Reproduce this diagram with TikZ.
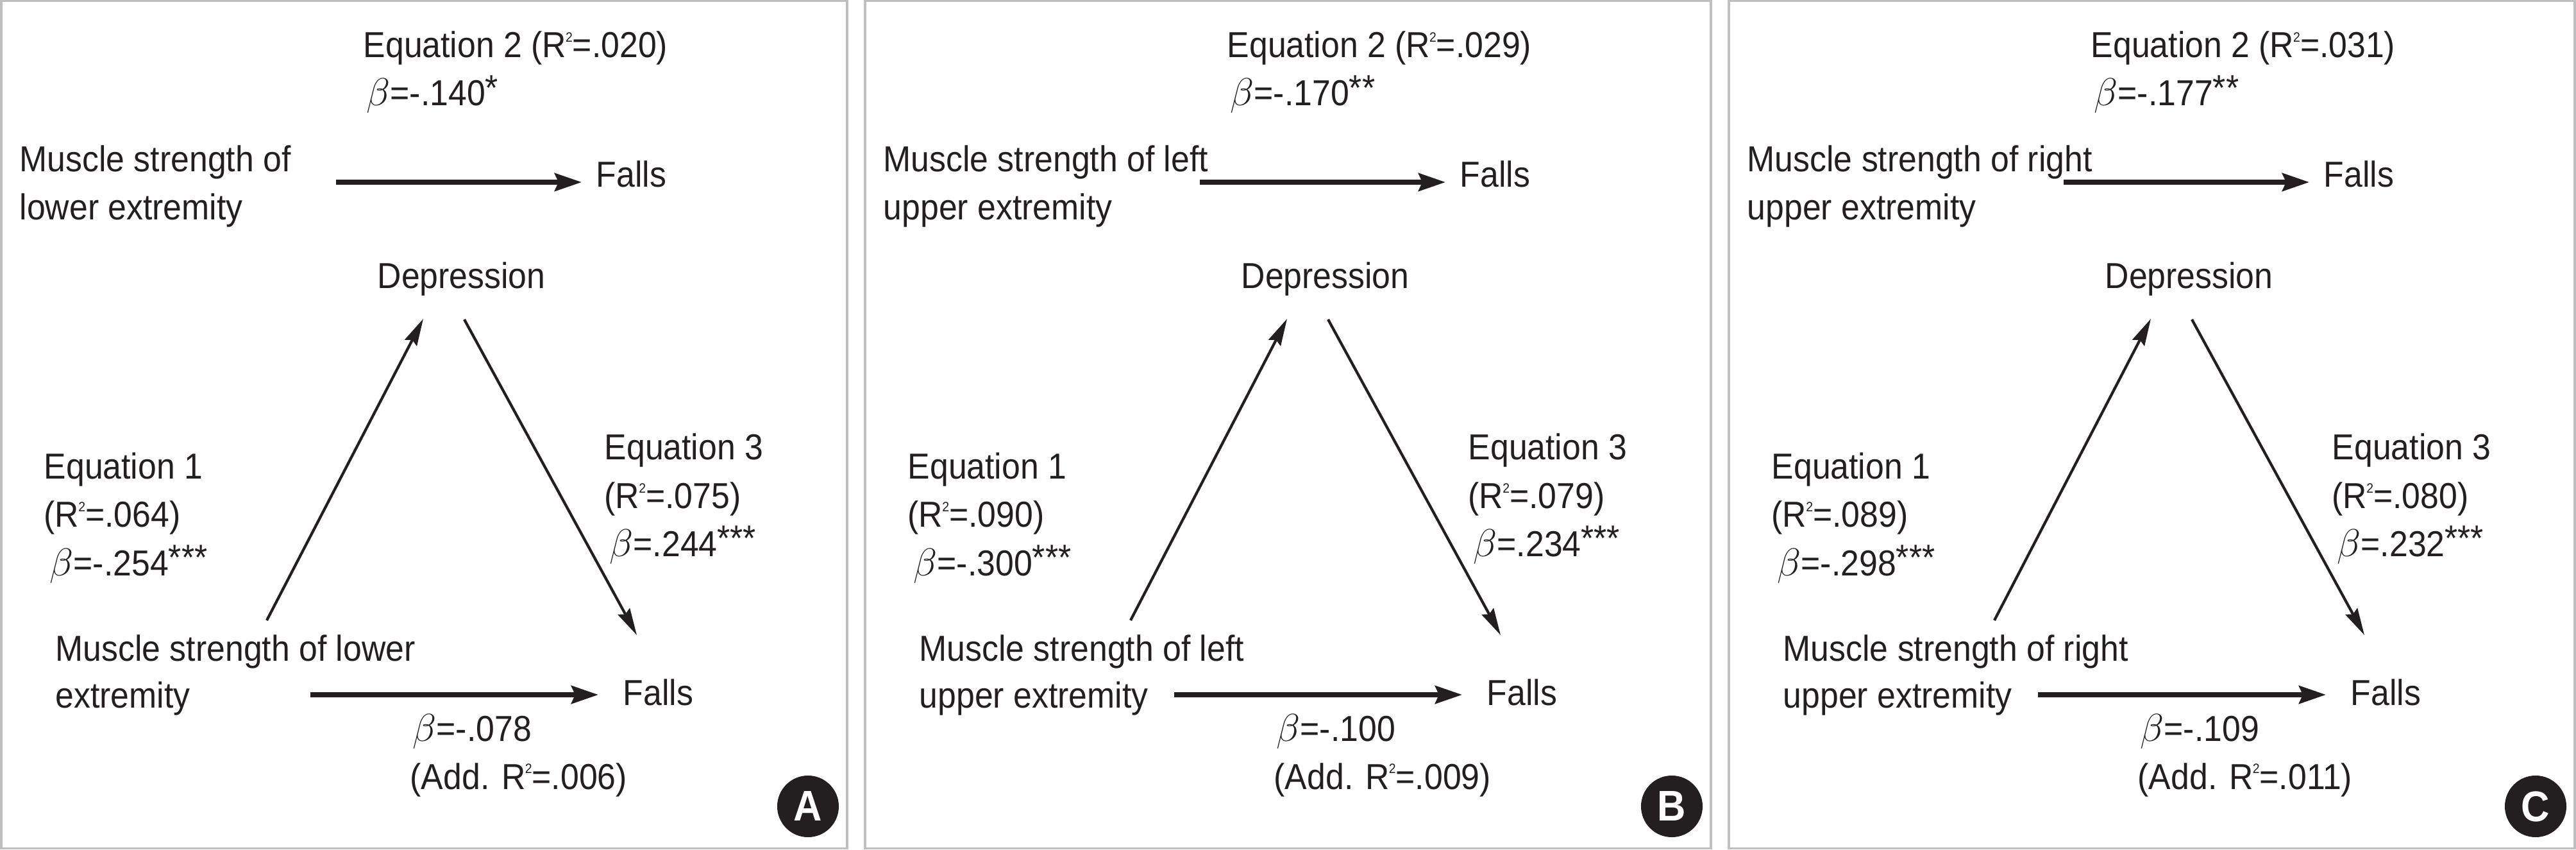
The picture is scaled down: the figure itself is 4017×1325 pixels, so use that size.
\documentclass[tikz,border=0pt]{standalone}
\usepackage{fontspec}
\setmainfont[FakeStretch=0.92]{Liberation Sans}
\usetikzlibrary{arrows.meta,calc}
\definecolor{framegray}{RGB}{190,191,193}
\definecolor{ink}{RGB}{35,31,32}
\newcommand\Rsq{R\kern-0.3pt\raisebox{7pt}{\fontsize{6pt}{6pt}\selectfont 2}}
\newcommand\bet{$\beta$}
\newcommand\st{\raisebox{2.5pt}{*}}
\begin{document}
\begin{tikzpicture}[x=0.01cm,y=-0.01cm,
  lbl/.style={anchor=base west,inner sep=0pt,text=ink,font=\fontsize{16pt}{19pt}\selectfont},
  heavy arrow/.style={draw=ink,line width=2pt,-{Stealth[length=0.42cm,width=0.28cm,inset=0.06cm]}},
  light arrow/.style={draw=ink,line width=1.2pt,-{Stealth[length=0.42cm,width=0.21cm,inset=0.05cm]}},
  panelframe/.style={draw=framegray,line width=1pt},
  badge/.style={circle,fill=ink,text=white,minimum size=0.96cm,inner sep=0pt,font=\fontsize{19pt}{19pt}\selectfont\bfseries}]
\useasboundingbox (0,0) rectangle (4017,1325);
\foreach \ox/\L/\ta/\tb/\ba/\bb/\rtwo/\btwo/\rone/\bone/\rthree/\bthree/\bd/\radd in {
0/A/Muscle strength of/lower extremity/Muscle strength of lower/extremity/.020/-.140\st/.064/-.254\st\st\st/.075/.244\st\st\st/-.078/.006,
1347/B/Muscle strength of left/upper extremity/Muscle strength of left/upper extremity/.029/-.170\st\st/.090/-.300\st\st\st/.079/.234\st\st\st/-.100/.009,
2694/C/Muscle strength of right/upper extremity/Muscle strength of right/upper extremity/.031/-.177\st\st/.089/-.298\st\st\st/.080/.232\st\st\st/-.109/.011}
{
  \draw[panelframe] (\ox+1.75,1.75) rectangle (\ox+1321,1322.5);
  \node[lbl] (eqtwo\L) at (\ox+566,90) {Equation 2 (\Rsq=\rtwo)};
  \node[lbl] (btwo\L) at (\ox+571,165) {\bet=\btwo};
  \node[lbl] (msta\L) at (\ox+30,268) {\ta};
  \node[lbl] (mstb\L) at (\ox+30,343) {\tb};
  \node[lbl] (fallst\L) at (\ox+929,292) {Falls};
  \node[lbl] (dep\L) at (\ox+588,450) {Depression};
  \node[lbl] (eqone\L) at (\ox+68,747) {Equation 1};
  \node[lbl] (rone\L) at (\ox+68,822) {(\Rsq=\rone)};
  \node[lbl] (bone\L) at (\ox+77,897) {\bet=\bone};
  \node[lbl] (eqthree\L) at (\ox+942,717) {Equation 3};
  \node[lbl] (rthree\L) at (\ox+942,793) {(\Rsq=\rthree)};
  \node[lbl] (bthree\L) at (\ox+950,867) {\bet=\bthree};
  \node[lbl] (msba\L) at (\ox+86,1030) {\ba};
  \node[lbl] (msbb\L) at (\ox+86,1103) {\bb};
  \node[lbl] (fallsb\L) at (\ox+971,1100) {Falls};
  \node[lbl] (bd\L) at (\ox+643,1155) {\bet=\bd};
  \node[lbl] (radd\L) at (\ox+639,1230) {(Add. \Rsq=\radd)};
  \node[badge] (badge\L) at (\ox+1260,1257) {\L};
  \draw[heavy arrow] ($(msta\L.base west)+(494,16)$) -- ($(fallst\L.base west)+(-22,-8)$);
  \draw[light arrow] ($(msba\L.base west)+(330,-63)$) -- ($(dep\L.base west)+(72,47)$);
  \draw[light arrow] ($(dep\L.base west)+(136,48)$) -- ($(fallsb\L.base west)+(22,-110)$);
  \draw[heavy arrow] ($(msbb\L.base west)+(398,-20)$) -- ($(fallsb\L.base west)+(-38,-17)$);
}
\end{tikzpicture}
\end{document}
